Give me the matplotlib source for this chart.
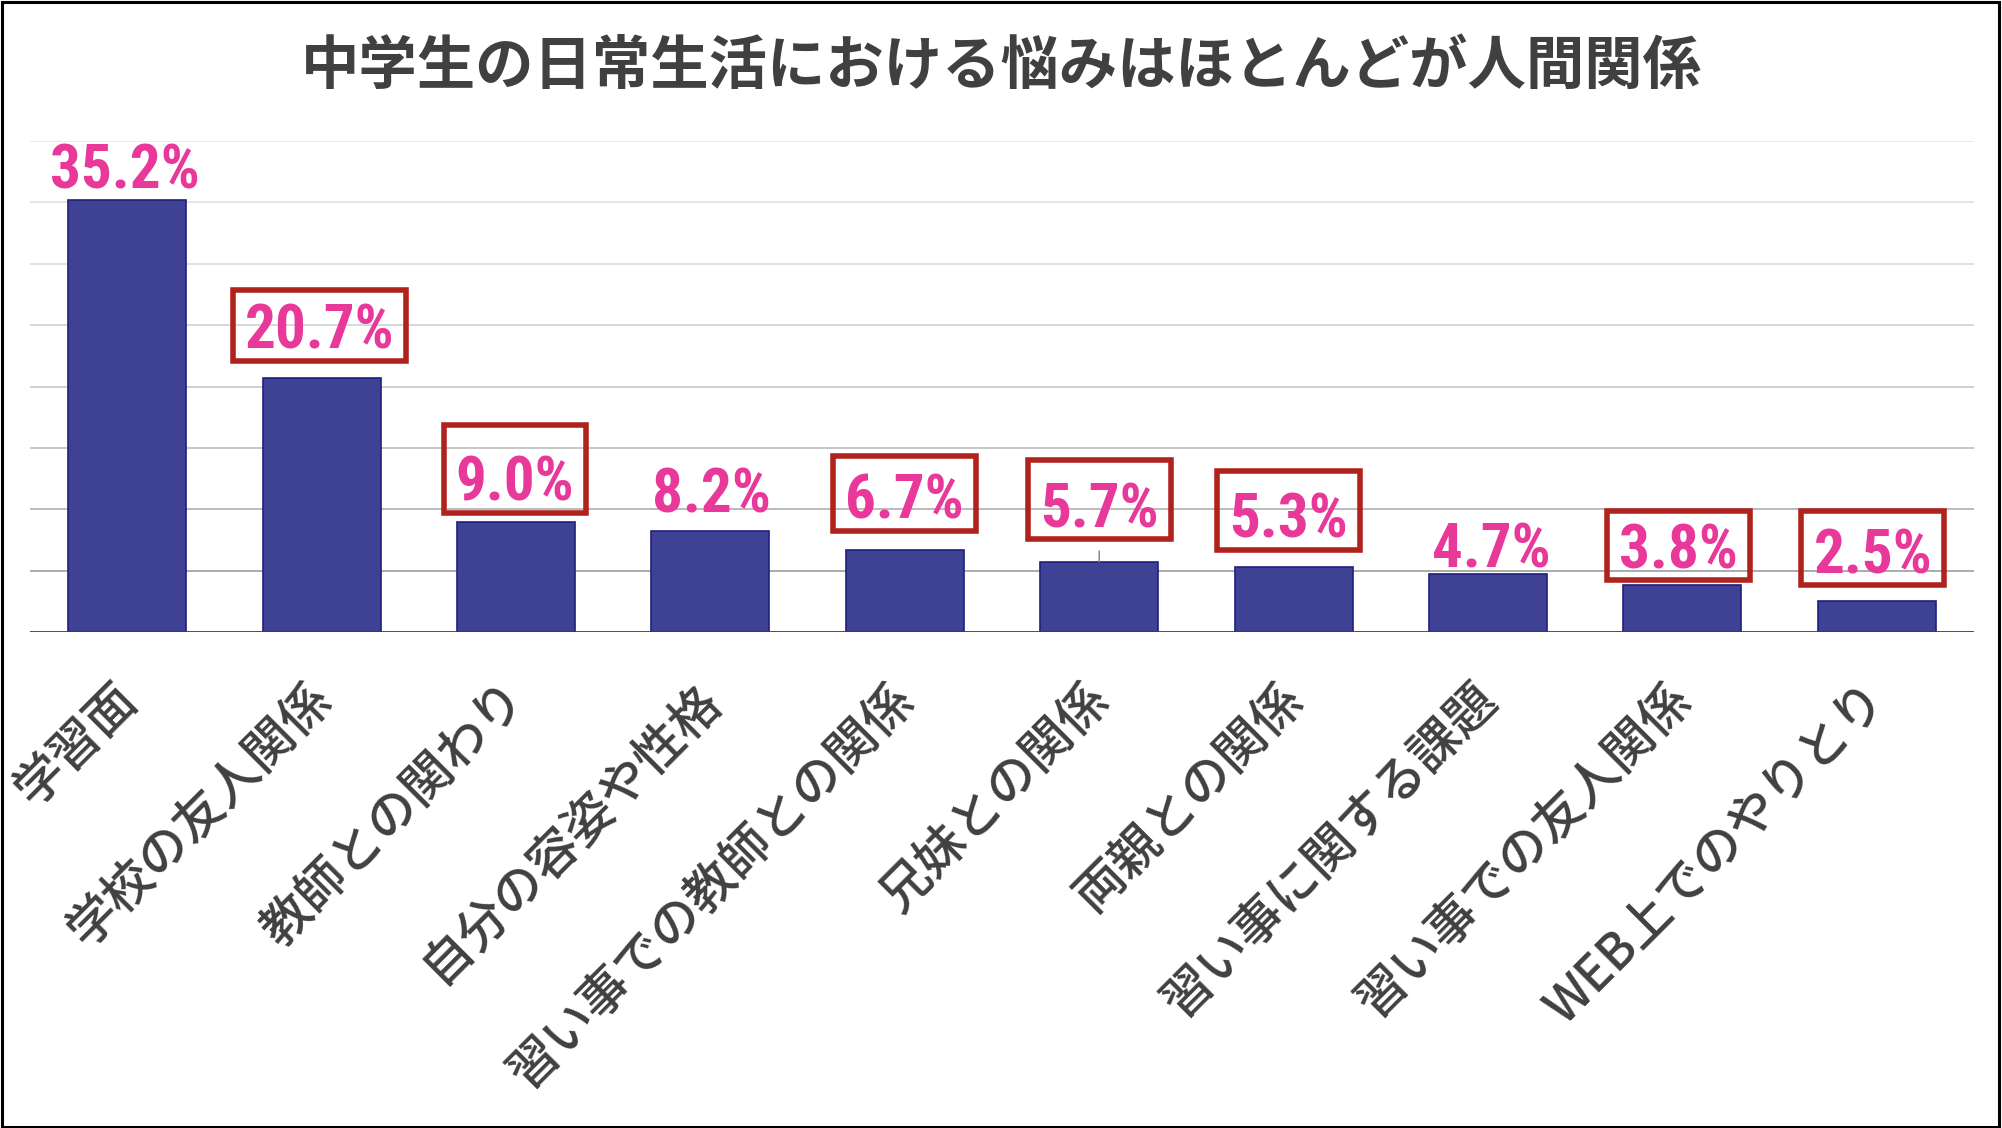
"""
中学生の日常生活における悩み - 棒グラフ
"""
import matplotlib
matplotlib.use('Agg')
import matplotlib.pyplot as plt
from matplotlib.patches import Rectangle
from matplotlib.transforms import ScaledTranslation, IdentityTransform

plt.rcParams['font.family'] = ['Noto Sans CJK JP', 'DejaVu Sans']

# データ
categories = ['学習面', '学校の友人関係', '教師との関わり', '自分の容姿や性格',
              '習い事での教師との関係', '兄妹との関係', '両親との関係',
              '習い事に関する課題', '習い事での友人関係', 'WEB上でのやりとり']
values = [35.2, 20.7, 9.0, 8.2, 6.7, 5.7, 5.3, 4.7, 3.8, 2.5]
boxed = [False, True, True, False, True, True, True, False, True, True]
grid_levels = [5, 10, 15, 20, 25, 30, 35, 40]

title = '中学生の日常生活における悩みはほとんどが人間関係'

# スタイル
BAR_COLOR = '#3F4194'
BAR_EDGE = '#1F2080'
LABEL_COLOR = '#E8389A'
BOX_COLOR = '#B0231C'
TEXT_COLOR = '#404040'
LABEL_FONTS = ['Roboto Condensed', 'Open Sans Condensed', 'Liberation Sans Narrow',
               'Liberation Sans', 'DejaVu Sans']
grid_colors = ['#A5A5A5', '#B5B5B5', '#C3C3C3', '#CDCDCD',
               '#D5D5D5', '#DDDDDD', '#E3E3E3', '#E8E8E8']
# ラベル位置の微調整 (px)
label_dx = [-2, -2, -1, 1, 0, 0, -5, 3, -4, -4]
label_gap = [11, 29, 21, 19, 31, 35, 29, 7, 17, 28]
# 赤枠の上端 (ベースラインからの px)
box_top = [0, 59, 76, 0, 63, 67, 67, 0, 57, 62]

fig = plt.figure(figsize=(20.02, 11.28), dpi=100)
ax = fig.add_axes([0.015, 0.4397, 0.971, 0.4353])

x = list(range(len(values)))
ax.bar(x, values, width=0.607, color=BAR_COLOR, edgecolor=BAR_EDGE,
       linewidth=1.2, zorder=3)

for lvl, c in zip(grid_levels, grid_colors):
    ax.axhline(lvl, color=c, lw=1.3, zorder=1)
ax.axhline(0, color=TEXT_COLOR, lw=2, zorder=4)

ax.set_xlim(-0.5, len(values) - 0.5)
ax.set_ylim(0, 40)
ax.set_yticks([])
for s in ax.spines.values():
    s.set_visible(False)

ax.set_xticks(x)
ax.set_xticklabels(categories, rotation=45, ha='right', va='center',
                   rotation_mode='anchor', fontsize=36, fontweight='medium',
                   color=TEXT_COLOR)
ax.tick_params(axis='x', length=0, pad=43)
for lbl in ax.get_xticklabels():
    lbl.set_transform(lbl.get_transform() +
                      ScaledTranslation(0.02, 0, fig.dpi_scale_trans))

# データラベル
texts = []
for i, v in enumerate(values):
    tr = ax.transData + ScaledTranslation(label_dx[i] / 100, label_gap[i] / 100,
                                          fig.dpi_scale_trans)
    t = ax.text(i, v, f'{v:.1f}%', transform=tr, ha='center', va='baseline',
                fontsize=44, fontweight='bold', color=LABEL_COLOR,
                family=LABEL_FONTS, zorder=6)
    texts.append(t)

# 5.7% のリーダー線
ax.annotate('', xy=(5, values[5]), xytext=(0, 8), textcoords='offset points',
            arrowprops=dict(arrowstyle='-', color='#808080', lw=1,
                            shrinkA=0, shrinkB=0), zorder=5)

fig.text(0.5, 1 - 67 / 1128, title, ha='center', va='center', fontsize=42,
         fontweight='bold', color=TEXT_COLOR)

# 赤枠
fig.canvas.draw()
renderer = fig.canvas.get_renderer()
for t, b, top, v in zip(texts, boxed, box_top, values):
    if not b:
        continue
    bb = t.get_window_extent(renderer)
    base = t.get_transform().transform((t.get_position()[0], v))[1]
    x0, x1 = bb.x0 - 12, bb.x1 + 12
    y0, y1 = base - 12, base + top
    fig.add_artist(Rectangle((x0, y0), x1 - x0, y1 - y0, fill=False,
                             edgecolor=BOX_COLOR, lw=4,
                             transform=IdentityTransform(), zorder=7))

# 外枠
fig.add_artist(Rectangle((0.0008, 0.0012), 0.9975, 0.9968, fill=False,
                         edgecolor='black', lw=2.2, transform=fig.transFigure))

fig.savefig('out.png', dpi=100)
plt.close(fig)
